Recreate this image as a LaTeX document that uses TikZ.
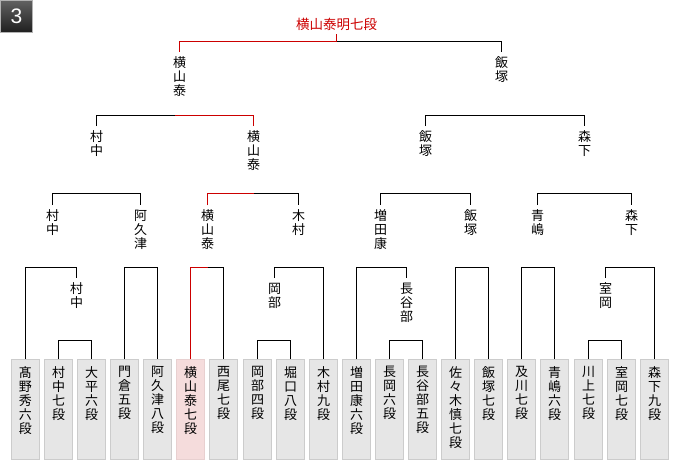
\documentclass[tikz,border=0pt]{standalone}
\usepackage{fontspec}
\newfontfamily\jp{Noto Sans CJK JP}
\newfontfamily\numf{Liberation Sans}
\usetikzlibrary{calc}
\definecolor{winred}{RGB}{204,0,0}
\definecolor{boxfill}{RGB}{230,230,230}
\definecolor{boxline}{RGB}{204,204,204}
\definecolor{winfill}{RGB}{245,220,220}
\definecolor{winline}{RGB}{232,208,208}
\newcommand{\tate}[1]{\parbox[c][86pt][t]{28pt}{\centering #1}}

\begin{document}
\begin{tikzpicture}
  [x=1pt, y=-1pt, line width=1pt,
   lbl/.style={font=\jp\fontsize{13}{14}\selectfont, align=center, inner xsep=0pt, inner ysep=4.5pt, anchor=north},
   plyr/.style={draw=boxline, fill=boxfill, line width=1pt, font=\jp\fontsize{13}{14}\selectfont,
                inner sep=0pt, minimum width=28pt, minimum height=100pt, anchor=north},
   champ/.style={plyr, draw=winline, fill=winfill},
   win/.style={draw=winred},
   ttl/.style={font=\jp\fontsize{13.5}{14}\selectfont, text=winred, inner sep=3pt, anchor=south},
   badge/.style={draw=black!30, line width=0.8pt, top color=black!62, bottom color=black!88, text=white,
                 font=\numf\fontsize{21}{21}\selectfont, inner sep=0pt, minimum size=32pt}]
  \useasboundingbox (0,0) rectangle (680,460);
  \node[badge] (num) at (16.5,16.5) {3};

  \coordinate (y1) at (0,41.5);
  \coordinate (y2) at (0,115.5);
  \coordinate (y3) at (0,193.5);
  \coordinate (y4) at (0,267.5);
  \coordinate (y5) at (0,340.5);

  \node[ttl] (ttl) at (336.5,34) {横山泰明七段};

  \node[lbl] (l1a) at (179.5,52) {横\\山\\泰};
  \node[lbl] (l1b) at (501.5,52) {飯\\塚};

  \node[lbl] (l2a) at (96.5,126) {村\\中};
  \node[lbl] (l2b) at (253.5,126) {横\\山\\泰};
  \node[lbl] (l2c) at (425.5,126) {飯\\塚};
  \node[lbl] (l2d) at (584.5,126) {森\\下};

  \node[lbl] (l3a) at (52.5,205) {村\\中};
  \node[lbl] (l3b) at (140.5,205) {阿\\久\\津};
  \node[lbl] (l3c) at (207.5,205) {横\\山\\泰};
  \node[lbl] (l3d) at (298.5,205) {木\\村};
  \node[lbl] (l3e) at (380.5,205) {増\\田\\康};
  \node[lbl] (l3f) at (470.5,205) {飯\\塚};
  \node[lbl] (l3g) at (537.5,205) {青\\嶋};
  \node[lbl] (l3h) at (631.5,205) {森\\下};

  \node[lbl] (l4a) at (76.5,278) {村\\中};
  \node[lbl] (l4b) at (274.5,278) {岡\\部};
  \node[lbl] (l4c) at (406.5,278) {長\\谷\\部};
  \node[lbl] (l4d) at (605.5,278) {室\\岡};

  \node[plyr]  (p1)  at (25.5,359)  {\tate{髙\\野\\秀\\六\\段}};
  \node[plyr]  (p2)  at (58.5,359)  {\tate{村\\中\\七\\段}};
  \node[plyr]  (p3)  at (91.5,359)  {\tate{大\\平\\六\\段}};
  \node[plyr]  (p4)  at (124.5,359) {\tate{門\\倉\\五\\段}};
  \node[plyr]  (p5)  at (157.5,359) {\tate{阿\\久\\津\\八\\段}};
  \node[champ] (p6)  at (190.5,359) {\tate{横\\山\\泰\\七\\段}};
  \node[plyr]  (p7)  at (223.5,359) {\tate{西\\尾\\七\\段}};
  \node[plyr]  (p8)  at (257.5,359) {\tate{岡\\部\\四\\段}};
  \node[plyr]  (p9)  at (290.5,359) {\tate{堀\\口\\八\\段}};
  \node[plyr]  (p10) at (323.5,359) {\tate{木\\村\\九\\段}};
  \node[plyr]  (p11) at (356.5,359) {\tate{増\\田\\康\\六\\段}};
  \node[plyr]  (p12) at (389.5,359) {\tate{長\\岡\\六\\段}};
  \node[plyr]  (p13) at (422.5,359) {\tate{長\\谷\\部\\五\\段}};
  \node[plyr]  (p14) at (455.5,359) {\tate{佐\\々\\木\\慎\\七\\段}};
  \node[plyr]  (p15) at (488.5,359) {\tate{飯\\塚\\七\\段}};
  \node[plyr]  (p16) at (521.5,359) {\tate{及\\川\\七\\段}};
  \node[plyr]  (p17) at (554.5,359) {\tate{青\\嶋\\六\\段}};
  \node[plyr]  (p18) at (588.5,359) {\tate{川\\上\\七\\段}};
  \node[plyr]  (p19) at (621.5,359) {\tate{室\\岡\\七\\段}};
  \node[plyr]  (p20) at (654.5,359) {\tate{森\\下\\九\\段}};

  \draw (ttl.south |- y1) -| (l1b.north);

  \draw (l2a.north) |- (l2b.north |- y2) -- (l2b.north);
  \draw (l2c.north) |- (l2d.north |- y2) -- (l2d.north);

  \draw (l3a.north) |- (l3b.north |- y3) -- (l3b.north);
  \draw (l3c.north) |- (l3d.north |- y3) -- (l3d.north);
  \draw (l3e.north) |- (l3f.north |- y3) -- (l3f.north);
  \draw (l3g.north) |- (l3h.north |- y3) -- (l3h.north);

  \draw (p1.north) |- (l4a.north |- y4) -- (l4a.north);
  \draw (p4.north) |- (p5.north |- y4) -- (p5.north);
  \draw (p6.north) |- (p7.north |- y4) -- (p7.north);
  \draw (l4b.north) |- (p10.north |- y4) -- (p10.north);
  \draw (p11.north) |- (l4c.north |- y4) -- (l4c.north);
  \draw (p14.north) |- (p15.north |- y4) -- (p15.north);
  \draw (p16.north) |- (p17.north |- y4) -- (p17.north);
  \draw (l4d.north) |- (p20.north |- y4) -- (p20.north);

  \draw (p2.north) |- (p3.north |- y5) -- (p3.north);
  \draw (p8.north) |- (p9.north |- y5) -- (p9.north);
  \draw (p12.north) |- (p13.north |- y5) -- (p13.north);
  \draw (p18.north) |- (p19.north |- y5) -- (p19.north);

  \draw[win] (l1a.north) |- (ttl.south |- y1) -- (ttl.south);
  \draw[win] (l2b.north) -- (l2b.north |- y2) -- ($(l2a.north |- y2)!.5!(l2b.north |- y2)$);
  \draw[win] (l3c.north) |- (l2b.north |- y3);
  \draw[win] (p6.north) |- (l3c.north |- y4);
\end{tikzpicture}
\end{document}
